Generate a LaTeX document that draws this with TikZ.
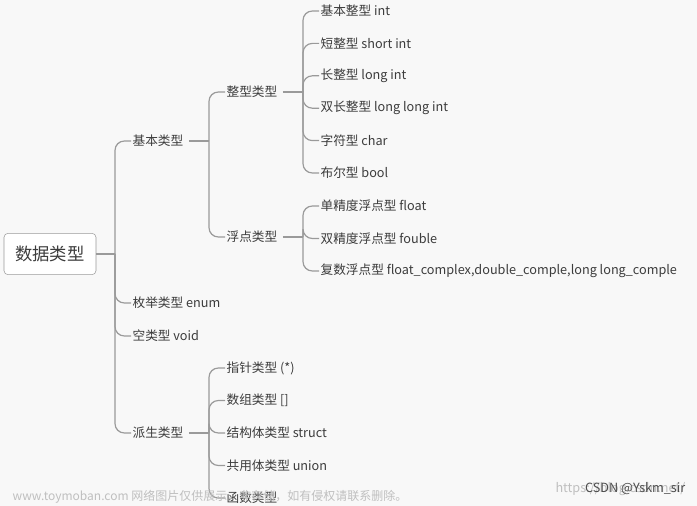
\documentclass[tikz,border=0pt]{standalone}
\usepackage{fontspec}
\setmainfont{Noto Sans CJK SC}
\usepackage{xcolor}
\usetikzlibrary{backgrounds}
\definecolor{bgcol}{HTML}{F8F8F8}
\definecolor{txtcol}{HTML}{3C3C3C}
\definecolor{linecol}{HTML}{9A9A9A}
\tikzset{
	leaf/.style={anchor=west, inner sep=1pt, text=txtcol, font=\fontsize{9.5}{11}\selectfont},
	root/.style={draw=linecol, rounded corners=3pt, fill=white, minimum width=69pt, minimum height=31pt, text=txtcol, font=\fontsize{13}{15}\selectfont},
	link/.style={draw=linecol, line width=0.9pt, rounded corners=7pt}
}
\begin{document}
\begin{tikzpicture}[x=0.75pt, y=-0.75pt]
	\fill[bgcol] (0,0) rectangle (697,506);
	\useasboundingbox (0,0) rectangle (697,506);
	\node[root] (data) at (50,254) {数据类型};
	% first level
	\node[leaf] (basic) at (131,141) {基本类型};
	\node[leaf] (enum) at (131,303) {枚举类型 enum};
	\node[leaf] (void) at (131,336) {空类型 void};
	\node[leaf] (derived) at (131,433) {派生类型};
	\coordinate (s0) at (115,254);
	\draw[link] (data.east) -- (s0);
	\foreach \n in {basic, enum, void, derived}
		\draw[link] (s0) |- (\n.west);
	% basic
	\node[leaf] (int) at (225,92) {整型类型};
	\node[leaf] (float) at (225,237) {浮点类型};
	\coordinate (s1) at (209,141);
	\draw[link] (basic.east) ++(4,0) -- (s1);
	\foreach \n in {int, float}
		\draw[link] (s1) |- (\n.west);
	% integer kinds
	\coordinate (s2) at (303,92);
	\draw[link] (int.east) ++(4,0) -- (s2);
	\foreach \t [count=\i] in {基本整型 int, 短整型 short int, 长整型 long int, 双长整型 long long int, 字符型 char, 布尔型 bool}{
		\node[leaf] (i\i) at (319,{11+32.4*(\i-1)}) {\t};
		\draw[link] (s2) |- (i\i.west);
	}
	% float kinds
	\coordinate (s3) at (303,237);
	\draw[link] (float.east) ++(4,0) -- (s3);
	\foreach \t [count=\i] in {单精度浮点型 float, 双精度浮点型 fouble, {复数浮点型 float\_complex,double\_comple,long long\_comple}}{
		\node[leaf] (f\i) at (319,{206+32.5*(\i-1)}) {\t};
		\draw[link] (s3) |- (f\i.west);
	}
	% derived
	\coordinate (s4) at (209,433);
	\draw[link] (derived.east) ++(4,0) -- (s4);
	\foreach \t [count=\i] in {指针类型 (*), 数组类型 [], 结构体类型 struct, 共用体类型 union, 函数类型}{
		\node[leaf] (d\i) at (225,{368+32.5*(\i-1)}) {\t};
		\draw[link] (s4) |- (d\i.west);
	}
	% watermarks
	\node[anchor=west, text=black!25, font=\fontsize{9}{10}\selectfont] (wm) at (8,497) {www.toymoban.com 网络图片仅供展示，非存储，如有侵权请联系删除。};
	\node[anchor=east, text=black!25, font=\fontsize{9.5}{10}\selectfont] (wm2) at (690,489) {https://blog.csdn.net/};
	\node[anchor=east, text=black!70, font=\fontsize{9.5}{10}\selectfont] (csdn) at (690,489) {CSDN @Yskm\_sir};
\end{tikzpicture}
\end{document}
